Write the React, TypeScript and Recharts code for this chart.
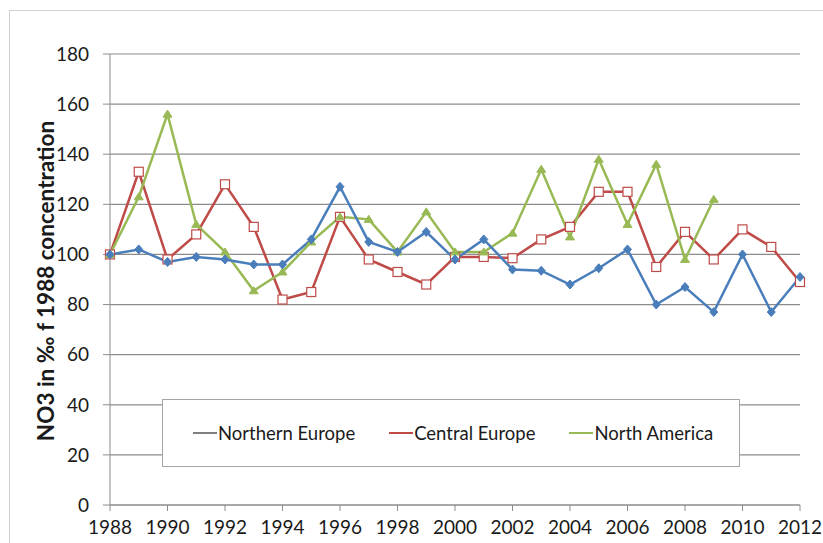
import React from 'react'
import { LineChart, Line, XAxis, YAxis, CartesianGrid } from 'recharts'

const years = [
  '1988', '1989', '1990', '1991', '1992', '1993', '1994', '1995', '1996', '1997', '1998', '1999', '2000',
  '2001', '2002', '2003', '2004', '2005', '2006', '2007', '2008', '2009', '2010', '2011', '2012',
]
const northernEurope = [100, 102, 97, 99, 98, 96, 96, 106, 127, 105, 101, 109, 98, 106, 94, 93.5, 88, 94.5, 102, 80, 87, 77, 100, 77, 91]
const centralEurope = [100, 133, 98, 108, 128, 111, 82, 85, 115, 98, 93, 88, 99, 99, 98.5, 106, 111, 125, 125, 95, 109, 98, 110, 103, 89]
const northAmerica = [100, 123, 156, 112, 101, 85.5, 93, 105, 115, 114, 101, 117, 101, 101, 108.5, 134, 107, 138, 112, 136, 98, 122, null, null, null]
const yTicks = [0, 20, 40, 60, 80, 100, 120, 140, 160, 180]

const data = years.map((year, i) => ({
  year,
  northern: northernEurope[i],
  central: centralEurope[i],
  america: northAmerica[i],
}))

const BLUE = '#4a7ebb'
const RED = '#be4b48'
const GREEN = '#98b954'
const FONT = 'Lato, "Open Sans", sans-serif'

function Diamond({ cx, cy }: any) {
  if (cx == null || cy == null) return null
  return <path d={`M${cx} ${cy - 4.5}L${cx + 4} ${cy}L${cx} ${cy + 4.5}L${cx - 4} ${cy}Z`} fill={BLUE} stroke={BLUE} strokeWidth={1} />
}

function Square({ cx, cy }: any) {
  if (cx == null || cy == null) return null
  return <rect x={cx - 4.5} y={cy - 4.5} width={9} height={9} fill="#fff" stroke={RED} strokeWidth={1.2} />
}

function Triangle({ cx, cy, value }: any) {
  if (cx == null || cy == null || value == null) return null
  return <path d={`M${cx} ${cy - 4}L${cx + 4.5} ${cy + 3}L${cx - 4.5} ${cy + 3}Z`} fill={GREEN} stroke={GREEN} strokeWidth={1} />
}

const legendItems = [
  { label: 'Northern Europe', color: '#7f7f7f' },
  { label: 'Central Europe', color: RED },
  { label: 'North America', color: GREEN },
]

// legend box sits inside the plot, over the 20/40 gridlines
function LegendBox() {
  return (
    <div
      style={{
        position: 'absolute',
        left: 162,
        top: 399,
        boxSizing: 'border-box',
        width: 578,
        height: 68,
        border: '1.5px solid #a6a6a6',
        background: '#fff',
        display: 'flex',
        alignItems: 'center',
        paddingLeft: 30,
        gap: 34,
        fontFamily: FONT,
        fontSize: 18.5,
        color: '#1a1a1a',
      }}
    >
      {legendItems.map((it) => (
        <div key={it.label} style={{ display: 'flex', alignItems: 'center' }}>
          <svg width={24} height={12} style={{ marginRight: 1 }}>
            <line x1={0} y1={6} x2={24} y2={6} stroke={it.color} strokeWidth={2} />
          </svg>
          <span>{it.label}</span>
        </div>
      ))}
    </div>
  )
}

function YLabel() {
  return (
    <text
      x={45}
      y={281}
      transform="rotate(-90 45 281)"
      textAnchor="middle"
      dominantBaseline="central"
      fontFamily={FONT}
      fontWeight={700}
      fontSize={22.5}
      fill="#1a1a1a"
    >
      NO3 in ‰ f 1988 concentration
    </text>
  )
}

export default function App() {
  return (
    <div style={{ position: 'absolute', left: 0, top: 0, width: 823, height: 543, background: '#fff', overflow: 'hidden' }}>
      <div
        style={{
          position: 'absolute',
          left: 9,
          top: 10,
          width: 830,
          height: 560,
          border: '1px solid #d0d0d0',
        }}
      />
      <LineChart
        width={823}
        height={543}
        data={data}
        margin={{ top: 54, right: 23, bottom: 8, left: 50 }}
        style={{ position: 'absolute', left: 0, top: 0 }}
      >
        <CartesianGrid vertical={false} stroke="#8c8c8c" strokeWidth={1.2} />
        <XAxis
          dataKey="year"
          interval={1}
          height={30}
          tickSize={6}
          tickMargin={10}
          stroke="#8c8c8c"
          tick={{ fontFamily: FONT, fontSize: 19, fill: '#1a1a1a' }}
        />
        <YAxis
          domain={[0, 180]}
          ticks={yTicks}
          width={60}
          tickSize={7}
          tickMargin={14}
          stroke="#8c8c8c"
          tick={{ fontFamily: FONT, fontSize: 19, fill: '#1a1a1a' }}
          label={{ content: () => <YLabel /> }}
        />
        <Line dataKey="central" stroke={RED} strokeWidth={2.5} dot={<Square />} isAnimationActive={false} />
        <Line dataKey="america" stroke={GREEN} strokeWidth={2.5} dot={<Triangle />} isAnimationActive={false} />
        <Line dataKey="northern" stroke={BLUE} strokeWidth={2.5} dot={<Diamond />} isAnimationActive={false} />
      </LineChart>
      <LegendBox />
    </div>
  )
}
